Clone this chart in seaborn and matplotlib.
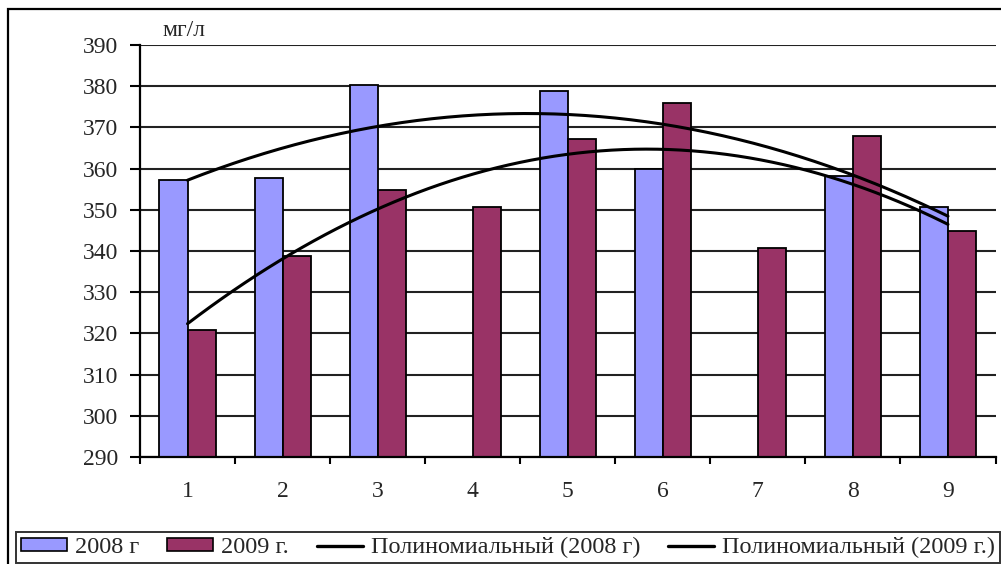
import numpy as np
import pandas as pd
import seaborn as sns
import matplotlib
matplotlib.use("Agg")
import matplotlib.pyplot as plt
from matplotlib.patches import Rectangle
from matplotlib.lines import Line2D
from matplotlib.patches import Patch

# Monthly concentration, mg/l
categories = ["1", "2", "3", "4", "5", "6", "7", "8", "9"]
values_2008 = [357.2, 357.6, 380.4, np.nan, 378.9, 360.0, np.nan, 358.3, 350.8]
values_2009 = [320.8, 338.9, 354.8, 350.8, 367.3, 376.0, 340.8, 368.0, 344.9]
series_labels = ["2008 г", "2009 г."]
trend_labels = ["Полиномиальный (2008 г)", "Полиномиальный (2009 г.)"]
y_ticks = [290, 300, 310, 320, 330, 340, 350, 360, 370, 380, 390]
y_unit = "мг/л"

colors = ["#9999FF", "#993366"]

sns.set_theme(style="white")
plt.rcParams["font.family"] = ["Liberation Serif", "DejaVu Serif"]

df = pd.DataFrame({
    "cat": categories * 2,
    "value": values_2008 + values_2009,
    "series": [series_labels[0]] * len(categories) + [series_labels[1]] * len(categories),
})

fig = plt.figure(figsize=(10.01, 5.64), dpi=100)
ax = fig.add_axes([140 / 1001, 1 - 457 / 564, 855.5 / 1001, 412 / 564])

sns.barplot(data=df, x="cat", y="value", hue="series", order=categories,
            hue_order=series_labels, palette=colors, width=0.59,
            edgecolor="black", linewidth=1.3, saturation=1, ax=ax,
            legend=False, zorder=3)
for p in ax.patches:
    p.set_zorder(3)

# quadratic trend lines over the category positions
xs = np.arange(len(categories), dtype=float)
xfine = np.linspace(0, len(categories) - 1, 200)
for vals in (values_2008, values_2009):
    v = np.array(vals, dtype=float)
    m = ~np.isnan(v)
    coef = np.polyfit(xs[m] + 1, v[m], 2)
    sns.lineplot(x=xfine, y=np.polyval(coef, xfine + 1), color="black",
                 linewidth=2.2, ax=ax, zorder=4)

ax.set_ylim(290, 390)
ax.set_xlim(-0.5, len(categories) - 0.5)
ax.set_yticks(y_ticks)
ax.set_xlabel("")
ax.set_ylabel("")
ax.grid(axis="y", color="#222222", linewidth=1.5, zorder=0)
ax.grid(axis="x", visible=False)
ax.set_axisbelow(True)

for s in ("top", "right"):
    ax.spines[s].set_visible(False)
for s in ("left", "bottom"):
    ax.spines[s].set_color("black")
    ax.spines[s].set_linewidth(1.6)
    ax.spines[s].set_zorder(5)

ax.tick_params(axis="y", which="major", direction="out", length=7, width=1.5,
               color="black", pad=9, labelsize=17, left=True)
ax.tick_params(axis="x", which="major", length=0, pad=17, labelsize=17)
ax.set_xticks(np.arange(-0.5, len(categories)), minor=True)
ax.tick_params(axis="x", which="minor", direction="out", length=5, width=1.5,
               color="black", bottom=True)

fig.text(162 / 1001, 1 - 30 / 564, y_unit, fontsize=17, ha="left", va="center")

# outer chart frame
fig.add_artist(Rectangle((8 / 1001, -0.05), 1.1, (1 - 9 / 564) + 0.05,
                         transform=fig.transFigure, fill=False,
                         edgecolor="black", linewidth=1.6, clip_on=False))

handles = [Patch(facecolor=colors[0], edgecolor="black", linewidth=1.2),
           Patch(facecolor=colors[1], edgecolor="black", linewidth=1.2),
           Line2D([], [], color="black", linewidth=2.4),
           Line2D([], [], color="black", linewidth=2.4)]
leg = fig.legend(handles, series_labels + trend_labels, ncol=4,
                 loc="lower left", bbox_to_anchor=(16 / 1001, 1 / 564, 984 / 1001, 39 / 564),
                 mode="expand", fontsize=17.5, frameon=True, fancybox=False,
                 edgecolor="black", handlelength=1.9, handleheight=0.45,
                 handletextpad=0.33, columnspacing=0.5, borderaxespad=0,
                 borderpad=0.2)
leg.get_frame().set_linewidth(1.4)

fig.savefig("out.png", dpi=100)
